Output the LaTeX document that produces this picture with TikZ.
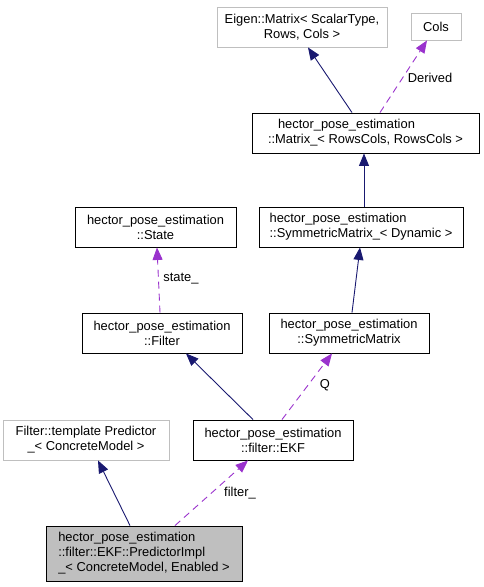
\documentclass[tikz,border=0pt]{standalone}
\usepackage{fontspec}
\setmainfont{Liberation Sans}
\usetikzlibrary{arrows.meta}
\definecolor{inhcol}{HTML}{191970}
\definecolor{usecol}{HTML}{9A32CD}
\definecolor{graybox}{HTML}{BFBFBF}
\tikzset{
  box/.style={draw=black, line width=0.9pt, minimum height=40pt, inner sep=0pt, font=\fontsize{12.9}{15}\selectfont},
  extbox/.style={box, draw=graybox},
  inh/.style={draw=inhcol, line width=0.9pt, -{Triangle[length=12.5pt,width=10pt]}},
  use/.style={draw=usecol, line width=0.9pt, dash pattern=on 7pt off 5pt, -{Triangle[length=12.5pt,width=10pt]}},
  lbl/.style={font=\fontsize{12.9}{15}\selectfont, inner sep=0pt}
}
\begin{document}
\begin{tikzpicture}[x=1pt,y=-1pt]
\path[use as bounding box] (0,0) rectangle (484,587);
\node[extbox, minimum width=170pt, align=center] (eig) at (302,27) {Eigen::Matrix< ScalarType,\\Rows, Cols >};
\node[extbox, minimum width=50pt, minimum height=27pt] (cols) at (436,26.5) {Cols};
\node[box, minimum width=227pt, align=left] (mat) at (365.5,133) {\hspace*{10pt}hector\_pose\_estimation\\::Matrix\_< RowsCols, RowsCols >};
\node[box, minimum width=161pt, align=center] (state) at (155.5,227) {hector\_pose\_estimation\\::State};
\node[box, minimum width=204pt, align=left] (symd) at (361,227) {hector\_pose\_estimation\\::SymmetricMatrix\_< Dynamic >};
\node[box, minimum width=160pt, align=center] (filt) at (162,333) {hector\_pose\_estimation\\::Filter};
\node[box, minimum width=160pt, align=center] (sym) at (349,333) {hector\_pose\_estimation\\::SymmetricMatrix};
\node[extbox, minimum width=166pt, align=center] (pred) at (86,440) {Filter::template Predictor\\\_< ConcreteModel >};
\node[box, minimum width=160pt, align=center] (ekf) at (273,440) {hector\_pose\_estimation\\::filter::EKF};
\node[box, fill=graybox, minimum width=196pt, minimum height=55pt, align=left] (impl) at (144,553.5) {hector\_pose\_estimation\\::filter::EKF::PredictorImpl\\\_< ConcreteModel, Enabled >};

\draw[inh] ([xshift=-13.5pt]mat.north) -- ([xshift=6pt]eig.south);
\draw[use] ([xshift=14.5pt]mat.north) -- ([xshift=-9pt]cols.south);
\node[lbl] (lderived) at (430,78) {Derived};
\draw[inh] ([xshift=3pt]symd.north) -- ([xshift=-1.5pt]mat.south);
\draw[use] ([xshift=-2pt]filt.north) -- ([xshift=1.5pt]state.south);
\node[lbl] (lstate) at (181,279) {state\_};
\draw[inh] ([xshift=3pt]sym.north) -- ([xshift=-1pt]symd.south);
\draw[inh] ([xshift=-20pt]ekf.north) -- ([xshift=24pt]filt.south);
\draw[use] ([xshift=9pt]ekf.north) -- ([xshift=-17pt]sym.south);
\node[lbl] (lq) at (325,385) {Q};
\draw[inh] ([xshift=-14pt]impl.north) -- ([xshift=12pt]pred.south);
\draw[use] ([xshift=31pt]impl.north) -- ([xshift=-25pt]ekf.south);
\node[lbl] (lfilter) at (240,493) {filter\_};
\end{tikzpicture}
\end{document}
